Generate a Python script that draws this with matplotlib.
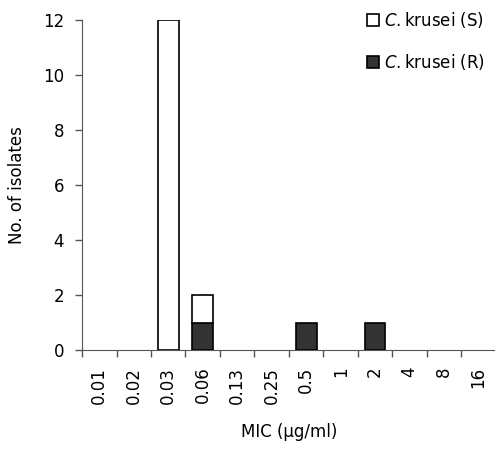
import numpy as np
import matplotlib.pyplot as plt

mic = ['0.01', '0.02', '0.03', '0.06', '0.13', '0.25', '0.5', '1', '2', '4', '8', '16']
resistant = [0, 0, 0, 1, 0, 0, 1, 0, 1, 0, 0, 0]
susceptible = [0, 0, 12, 1, 0, 0, 0, 0, 0, 0, 0, 0]

plt.rcParams['font.family'] = 'DejaVu Sans'
fig = plt.figure(figsize=(4.95, 4.5), dpi=100)
ax = fig.add_axes([0.1657, 0.2222, 0.836, 0.7334])

x = np.arange(len(mic))
r = np.array(resistant)
s = np.array(susceptible)
# skip empty bars so they don't show up as flat lines on the axis
mr = r > 0
ms = s > 0
ax.bar(x[mr], r[mr], width=0.6, color='#333333', edgecolor='black', linewidth=1.2,
       label=r'$\it{C.}$krusei (R)')
ax.bar(x[ms], s[ms], width=0.6, bottom=r[ms], color='white', edgecolor='black',
       linewidth=1.2, label=r'$\it{C.}$krusei (S)')

ax.set_xlim(-0.5, len(mic) - 0.5)
ax.set_ylim(0, 12)
ax.set_yticks(range(0, 13, 2))
ax.set_xticks(x)
ax.set_xticklabels(mic, rotation=90, fontsize=12)
ax.set_xticks(np.arange(len(mic) + 1) - 0.5, minor=True)
ax.tick_params(axis='x', which='major', length=0, pad=12)
ax.tick_params(axis='x', which='minor', length=5, width=1, color='#555555')
ax.tick_params(axis='y', length=5, width=1, color='#555555', labelsize=12, pad=8)
for sp in ['top', 'right']:
    ax.spines[sp].set_visible(False)
ax.spines['left'].set_color('#555555')
ax.spines['bottom'].set_color('#555555')

ax.set_ylabel('No. of isolates', fontsize=12, labelpad=12)
ax.set_xlabel('MIC (µg/ml)', fontsize=12, labelpad=14)

h, l = ax.get_legend_handles_labels()
fig.legend(h[::-1], l[::-1], loc='upper right', bbox_to_anchor=(1.0, 1.0),
           frameon=False, handlelength=0.7, handleheight=0.7, handletextpad=0.3,
           labelspacing=1.3, fontsize=12, borderaxespad=0.2)

fig.savefig('out.png', dpi=100)
